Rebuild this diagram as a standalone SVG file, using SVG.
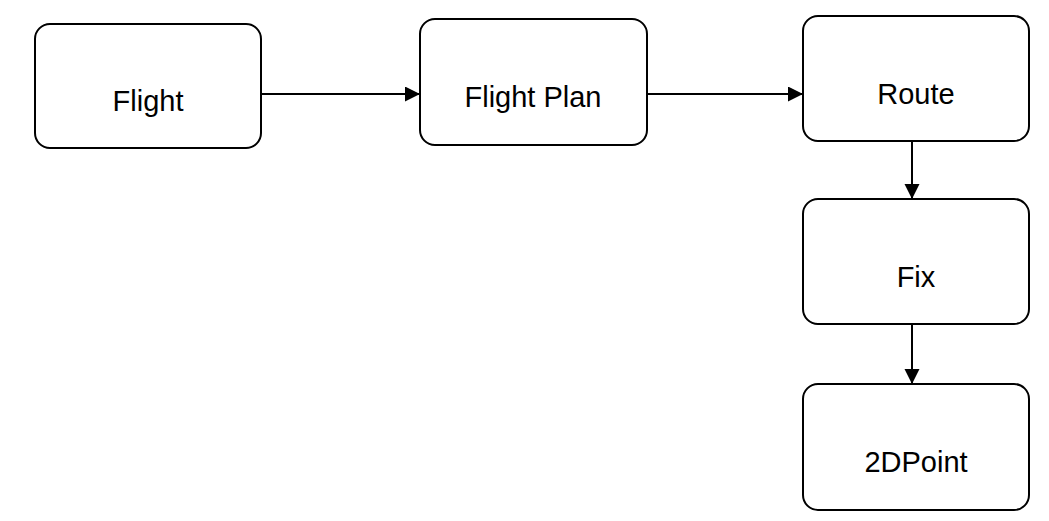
<svg xmlns="http://www.w3.org/2000/svg" width="1049" height="521" viewBox="0 0 1049 521">
<style>
.box{fill:#fff;stroke:#000;stroke-width:2}
.lbl{font-family:"Liberation Sans",Arial,sans-serif;font-size:29px;fill:#000;text-anchor:middle}
.edge{stroke:#000;stroke-width:2;fill:none}
</style>
<defs>
<marker id="ah" markerUnits="userSpaceOnUse" markerWidth="16" markerHeight="16" refX="15" refY="7.5" orient="auto">
<path d="M0,0 L15,7.5 L0,15 Z" fill="#000"/>
</marker>
</defs>
<rect width="1049" height="521" fill="#fff"/>
<g id="connectors">
<line class="edge" x1="261" y1="94" x2="420" y2="94" marker-end="url(#ah)"/>
<line class="edge" x1="647" y1="94" x2="803" y2="94" marker-end="url(#ah)"/>
<line class="edge" x1="912" y1="141" x2="912" y2="199" marker-end="url(#ah)"/>
<line class="edge" x1="912" y1="324" x2="912" y2="384" marker-end="url(#ah)"/>
</g>
<g id="flight">
<rect class="box" x="35" y="24" width="226" height="124" rx="15"/>
<text class="lbl" x="148" y="111">Flight</text>
</g>
<g id="flightplan">
<rect class="box" x="420" y="19" width="227" height="126" rx="15"/>
<text class="lbl" x="533" y="107">Flight Plan</text>
</g>
<g id="route">
<rect class="box" x="803" y="16" width="226" height="125" rx="15"/>
<text class="lbl" x="916" y="104">Route</text>
</g>
<g id="fix">
<rect class="box" x="803" y="199" width="226" height="125" rx="15"/>
<text class="lbl" x="916" y="287">Fix</text>
</g>
<g id="point2d">
<rect class="box" x="803" y="384" width="226" height="126" rx="15"/>
<text class="lbl" x="916" y="472">2DPoint</text>
</g>
</svg>
